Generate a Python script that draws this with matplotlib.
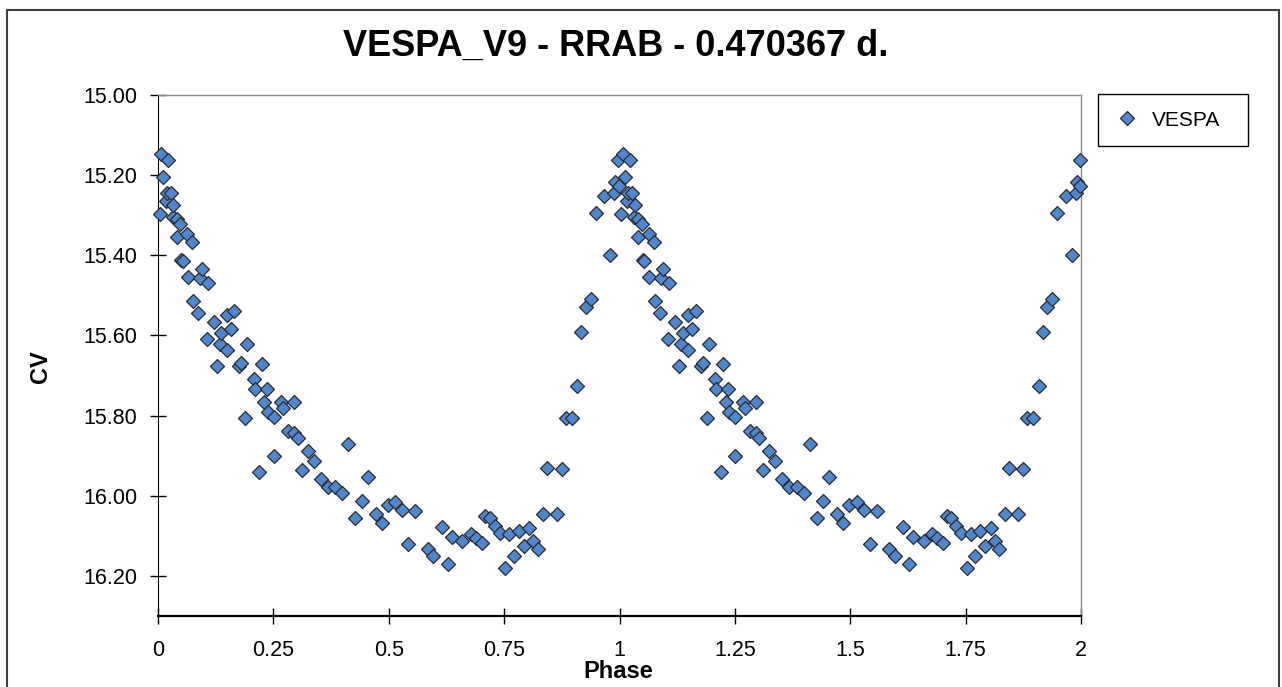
import numpy as np
import matplotlib
matplotlib.use('Agg')
import matplotlib.pyplot as plt
import matplotlib.patches as mpatches

plt.rcParams['font.family'] = ['Liberation Sans', 'DejaVu Sans']

###############################################################
## Data: one folded cycle, plotted twice (phase and phase+1)
###############################################################
phase = [0.004, 0.007, 0.011, 0.017, 0.019, 0.022, 0.028, 0.032, 0.033, 0.041,
         0.041, 0.048, 0.050, 0.054, 0.063, 0.065, 0.074, 0.076, 0.087, 0.091,
         0.095, 0.106, 0.108, 0.121, 0.128, 0.134, 0.137, 0.149, 0.149, 0.158,
         0.165, 0.176, 0.180, 0.189, 0.193, 0.208, 0.210, 0.219, 0.225, 0.230,
         0.236, 0.238, 0.251, 0.251, 0.267, 0.271, 0.282, 0.295, 0.295, 0.303,
         0.312, 0.325, 0.338, 0.353, 0.368, 0.384, 0.399, 0.412, 0.427, 0.442,
         0.455, 0.472, 0.485, 0.498, 0.514, 0.529, 0.542, 0.557, 0.585, 0.596,
         0.615, 0.628, 0.637, 0.659, 0.678, 0.689, 0.702, 0.709, 0.719, 0.730,
         0.741, 0.752, 0.761, 0.771, 0.782, 0.793, 0.804, 0.813, 0.823, 0.835,
         0.843, 0.864, 0.875, 0.884, 0.897, 0.908, 0.917, 0.927, 0.938, 0.948,
         0.967, 0.980, 0.989, 0.991, 0.997, 0.998]
cv = [15.297, 15.147, 15.204, 15.264, 15.244, 15.162, 15.244, 15.304, 15.274, 15.310,
      15.354, 15.322, 15.411, 15.413, 15.347, 15.453, 15.367, 15.514, 15.544, 15.456,
      15.434, 15.610, 15.468, 15.566, 15.676, 15.621, 15.594, 15.636, 15.549, 15.584,
      15.539, 15.676, 15.668, 15.805, 15.621, 15.708, 15.733, 15.940, 15.671, 15.765,
      15.733, 15.790, 15.803, 15.900, 15.765, 15.780, 15.838, 15.765, 15.843, 15.855,
      15.935, 15.888, 15.913, 15.958, 15.978, 15.978, 15.993, 15.870, 16.055, 16.012,
      15.953, 16.045, 16.067, 16.022, 16.015, 16.035, 16.120, 16.037, 16.132, 16.150,
      16.077, 16.170, 16.102, 16.112, 16.095, 16.105, 16.117, 16.050, 16.055, 16.075,
      16.092, 16.180, 16.095, 16.150, 16.087, 16.125, 16.080, 16.112, 16.132, 16.045,
      15.930, 16.045, 15.933, 15.805, 15.805, 15.725, 15.591, 15.529, 15.509, 15.294,
      15.252, 15.399, 15.244, 15.217, 15.162, 15.227]

xticks = [0, 0.25, 0.5, 0.75, 1, 1.25, 1.5, 1.75, 2]
xtick_labels = ['0', '0.25', '0.5', '0.75', '1', '1.25', '1.5', '1.75', '2']
yticks = [15.0, 15.2, 15.4, 15.6, 15.8, 16.0, 16.2]

title = 'VESPA_V9 - RRAB - 0.470367 d.'
series_name = 'VESPA'

W, H = 1282, 687
fig = plt.figure(figsize=(W / 100.0, H / 100.0), dpi=100)
fig.patch.set_facecolor('white')
ax = fig.add_axes([158.0 / W, 1 - 616.0 / H, (1081.0 - 158) / W, (616.0 - 95) / H])

x = np.concatenate([phase, np.array(phase) + 1])
y = np.concatenate([cv, cv])
ax.plot(x, y, linestyle='none', marker='D', markersize=7,
        markerfacecolor='#4F86D0', markeredgecolor='#2b2b2b',
        markeredgewidth=0.9, label=series_name, clip_on=False, zorder=3)

ax.set_xlim(0, 2)
ax.set_ylim(16.3, 15.0)
ax.set_xticks(xticks)
ax.set_xticklabels(xtick_labels)
ax.set_yticks(yticks)
ax.set_yticklabels(['%.2f' % v for v in yticks])

ax.tick_params(axis='both', direction='inout', length=11, width=1.0,
               labelsize=15.5, colors='black')
ax.tick_params(axis='y', pad=9.5)
ax.tick_params(axis='x', pad=12)

for s in ['top', 'right']:
    ax.spines[s].set_color('#8c8c8c')
    ax.spines[s].set_linewidth(1.0)
ax.spines['left'].set_color('black')
ax.spines['bottom'].set_color('black')
ax.spines['bottom'].set_linewidth(1.6)

###############################################################
## Texts
###############################################################
fig.text(616.0 / W, 1 - 46.0 / H, title, fontsize=26, fontweight='bold',
         ha='center', va='center')
fig.text(618.0 / W, 1 - 672.0 / H, 'Phase', fontsize=17, fontweight='bold',
         ha='center', va='center')
fig.text(40.0 / W, 1 - 367.0 / H, 'CV', fontsize=17, fontweight='bold',
         rotation=90, ha='center', va='center')

leg = ax.legend(loc='upper left',
                bbox_to_anchor=(1098.0 / W, 1 - 146.0 / H, 150.0 / W, 52.0 / H),
                bbox_transform=fig.transFigure, borderaxespad=0, mode='expand',
                fontsize=15, frameon=True, fancybox=False, framealpha=1,
                handlelength=1.2, handletextpad=0.6, borderpad=0.8,
                numpoints=1)
leg.get_frame().set_edgecolor('black')
leg.get_frame().set_linewidth(1.0)

# outer chart border
border = mpatches.Rectangle((7.0 / W, -0.1), (1279.0 - 7) / W, 1 - 10.0 / H + 0.1,
                            transform=fig.transFigure, fill=False,
                            edgecolor='#404040', linewidth=1.5)
fig.add_artist(border)

fig.savefig('out.png', dpi=100)
